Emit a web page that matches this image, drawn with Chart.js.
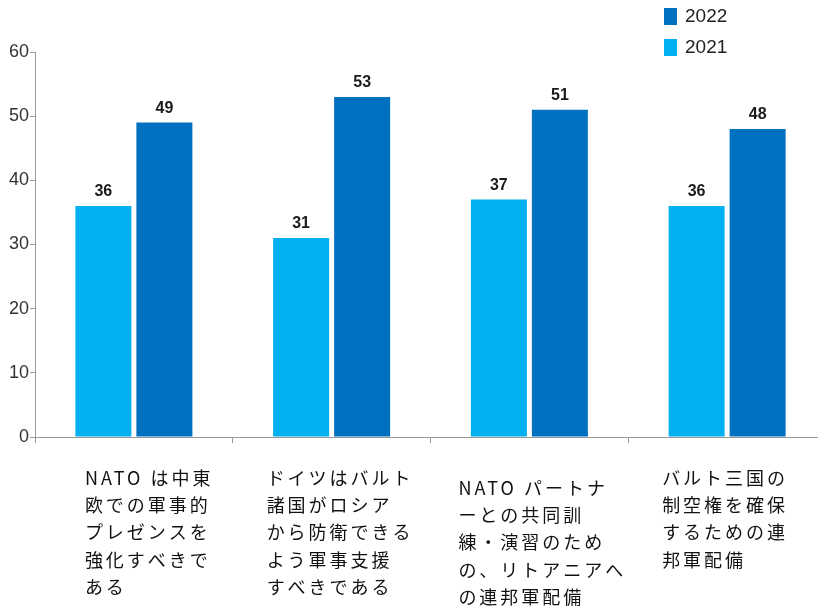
<!DOCTYPE html>
<html>
<head>
<meta charset="utf-8">
<script src="https://cdn.jsdelivr.net/npm/chart.js@4.4.0/dist/chart.umd.min.js"></script>
<style>
html, body { margin: 0; padding: 0; background: #fff; overflow: hidden; }
#wrap { position: relative; width: 826px; height: 609px; }
</style>
</head>
<body>
<div id="wrap"><canvas id="barChart"></canvas></div>
<script>
// chart data
var categories = [
    ["NATO は中東", "欧での軍事的", "プレゼンスを", "強化すべきで", "ある"],
    ["ドイツはバルト", "諸国がロシア", "から防衛できる", "よう軍事支援", "すべきである"],
    ["NATO パートナ", "ーとの共同訓", "練・演習のため", "の、リトアニアへ", "の連邦軍配備"],
    ["バルト三国の", "制空権を確保", "するための連", "邦軍配備"]
];
var seriesNames = ["2021", "2022"];
var values2021 = [36, 31, 37, 36];
var values2022 = [49, 53, 51, 48];
var yMin = 0, yMax = 60, yStep = 10;

var colors = ["#00b0f0", "#0070c0"];
var narrowFont = "'Liberation Sans Narrow', 'Arial Narrow', 'Liberation Sans', sans-serif";
var jpFont = "'Noto Sans CJK JP', 'Noto Sans', sans-serif";

// small layout tweaks for the category text blocks
var labelShiftX = [16, 0, -6, 0];
var labelShiftY = [0, 0, 10, 0];

// values above bars
var valueLabels = {
    id: 'valueLabels',
    afterDatasetsDraw: function(chart) {
        var ctx = chart.ctx;
        ctx.save();
        ctx.font = "bold 16px " + narrowFont;
        ctx.fillStyle = "#1a1a1a";
        ctx.textAlign = "center";
        ctx.textBaseline = "alphabetic";
        chart.data.datasets.forEach(function(ds, di) {
            var meta = chart.getDatasetMeta(di);
            meta.data.forEach(function(bar, i) {
                ctx.fillText(ds.data[i], bar.x, bar.y - 10);
            });
        });
        ctx.restore();
    }
};

// vertical legend, top right, newest year first
var sideLegend = {
    id: 'sideLegend',
    afterDraw: function(chart) {
        var ctx = chart.ctx;
        var dsets = chart.data.datasets;
        ctx.save();
        ctx.font = "19px " + narrowFont;
        ctx.textBaseline = "middle";
        ctx.textAlign = "left";
        for (var k = 0; k < dsets.length; k++) {
            var ds = dsets[dsets.length - 1 - k];
            var y = 8 + k * 31;
            ctx.fillStyle = ds.backgroundColor;
            ctx.fillRect(664, y, 13, 17);
            ctx.fillStyle = "#222";
            ctx.fillText(ds.label, 685, y + 9);
        }
        ctx.restore();
    }
};

// multi-line category text, left aligned inside each block
var categoryText = {
    id: 'categoryText',
    afterDraw: function(chart) {
        var ctx = chart.ctx;
        var xs = chart.scales.x;
        var base = chart.chartArea.bottom;
        ctx.save();
        ctx.font = "18px " + jpFont;
        ctx.letterSpacing = "3px";
        ctx.fillStyle = "#111";
        ctx.textAlign = "left";
        ctx.textBaseline = "middle";
        chart.data.labels.forEach(function(lines, i) {
            var left = xs.getPixelForValue(i) - 65 + labelShiftX[i];
            for (var j = 0; j < lines.length; j++) {
                ctx.fillText(lines[j], left, base + 41 + labelShiftY[i] + j * 27.3);
            }
        });
        ctx.restore();
    }
};

var chartSelector = document.getElementById("barChart");
var barChart = new Chart(chartSelector, {
    type: 'bar',
    data: {
        labels: categories,
        datasets: [
            {
                label: seriesNames[0],
                data: values2021,
                backgroundColor: colors[0],
                categoryPercentage: 0.617,
                barPercentage: 0.918
            },
            {
                label: seriesNames[1],
                data: values2022,
                backgroundColor: colors[1],
                categoryPercentage: 0.617,
                barPercentage: 0.918
            }
        ]
    },
    options: {
        responsive: true,
        maintainAspectRatio: false,
        animation: false,
        layout: { padding: { top: 52, left: 0, right: 0, bottom: 0 } },
        plugins: {
            legend: { display: false },
            tooltip: { enabled: false }
        },
        scales: {
            x: {
                grid: { drawOnChartArea: false, drawTicks: true, tickLength: 6, color: "#9a9a9a" },
                border: { color: "#9a9a9a" },
                ticks: { display: false },
                afterFit: function(scale) { scale.height = 172; }
            },
            y: {
                min: yMin,
                max: yMax,
                ticks: {
                    stepSize: yStep,
                    padding: 1,
                    color: "#333",
                    font: { family: "'Liberation Sans', Arial, sans-serif", size: 18 }
                },
                grid: { drawOnChartArea: false, drawTicks: true, tickLength: 5, color: "#9a9a9a" },
                border: { color: "#9a9a9a" },
                afterFit: function(scale) { scale.width = 35; }
            }
        }
    },
    plugins: [valueLabels, sideLegend, categoryText]
});
</script>
</body>
</html>
